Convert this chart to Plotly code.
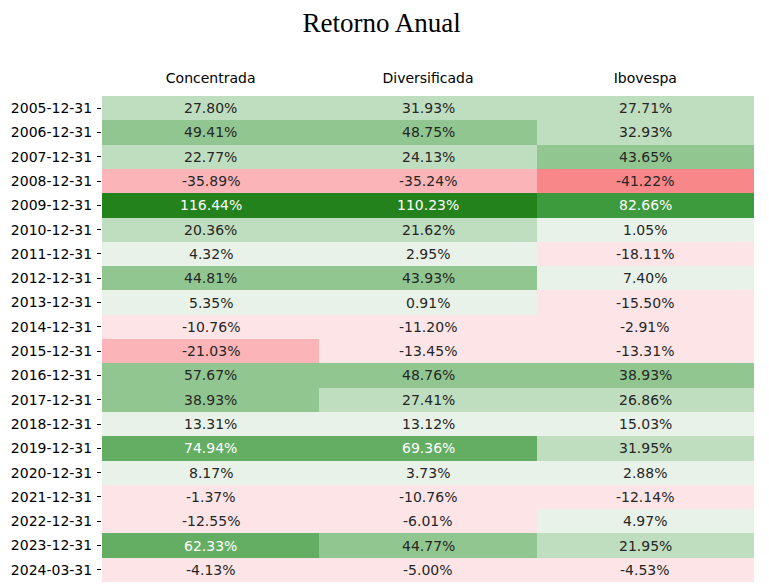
import plotly.graph_objects as go

dates = ["2005-12-31", "2006-12-31", "2007-12-31", "2008-12-31", "2009-12-31",
         "2010-12-31", "2011-12-31", "2012-12-31", "2013-12-31", "2014-12-31",
         "2015-12-31", "2016-12-31", "2017-12-31", "2018-12-31", "2019-12-31",
         "2020-12-31", "2021-12-31", "2022-12-31", "2023-12-31", "2024-03-31"]
columns = ["Concentrada", "Diversificada", "Ibovespa"]

concentrada = [27.80, 49.41, 22.77, -35.89, 116.44, 20.36, 4.32, 44.81, 5.35, -10.76,
               -21.03, 57.67, 38.93, 13.31, 74.94, 8.17, -1.37, -12.55, 62.33, -4.13]
diversificada = [31.93, 48.75, 24.13, -35.24, 110.23, 21.62, 2.95, 43.93, 0.91, -11.20,
                 -13.45, 48.76, 27.41, 13.12, 69.36, 3.73, -10.76, -6.01, 44.77, -5.00]
ibovespa = [27.71, 32.93, 43.65, -41.22, 82.66, 1.05, -18.11, 7.40, -15.50, -2.91,
            -13.31, 38.93, 26.86, 15.03, 31.95, 2.88, -12.14, 4.97, 21.95, -4.53]

series = [concentrada, diversificada, ibovespa]

bin_colors = ["#f8878a", "#fbb4b7", "#fde5e7", "#e8f2e8", "#bfddbf",
              "#91c690", "#64ae63", "#3d9a3d", "#24821c"]
zmin, zmax = -59.0, 116.5
white_threshold = 58.0

n = len(bin_colors)
colorscale = []
for i, c in enumerate(bin_colors):
    colorscale.append([i / n, c])
    colorscale.append([(i + 1) / n, c])

z = [[series[j][i] for j in range(len(columns))] for i in range(len(dates))]

fig = go.Figure(go.Heatmap(
    z=z, x=columns, y=dates, colorscale=colorscale, zmin=zmin, zmax=zmax,
    showscale=False, xgap=0, ygap=0, hoverinfo="skip"))

for i, d in enumerate(dates):
    for j, col in enumerate(columns):
        v = series[j][i]
        fig.add_annotation(x=col, y=d, text=f"{v:.2f}%", showarrow=False,
                           font=dict(family="DejaVu Sans", size=14,
                                     color="white" if v >= white_threshold else "#262626"))

fig.update_layout(
    width=769, height=586,
    margin=dict(l=94, r=23, t=88, b=12),
    paper_bgcolor="white", plot_bgcolor="white",
    title=dict(text="Retorno Anual", x=0.486, xanchor="center", y=0.976, yanchor="middle",
               font=dict(family="Liberation Serif", size=27, color="black")),
    xaxis=dict(type="category", side="top", showgrid=False, zeroline=False, ticks="",
               ticklabelstandoff=9, automargin=False,
               tickfont=dict(family="DejaVu Sans", size=14, color="black")),
    yaxis=dict(type="category", autorange="reversed", showgrid=False, zeroline=False,
               ticks="outside", ticklen=4, tickwidth=1, tickcolor="black",
               ticklabelstandoff=2, automargin=False,
               tickfont=dict(family="DejaVu Sans", size=14, color="black")),
)

fig.write_html("out.html")
